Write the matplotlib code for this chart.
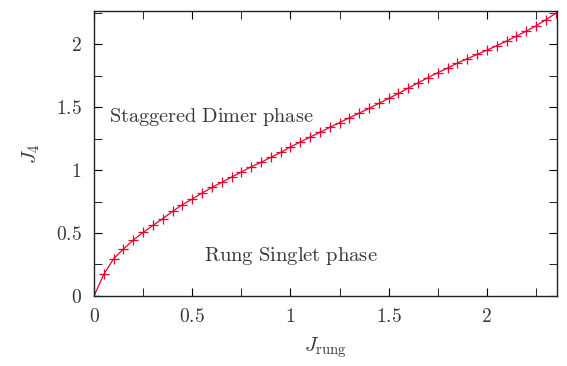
import matplotlib
matplotlib.use("Agg")
import matplotlib.pyplot as plt
from matplotlib.ticker import MultipleLocator

plt.rcParams['mathtext.fontset'] = 'cm'
plt.rcParams['font.family'] = 'serif'
plt.rcParams['font.serif'] = ['DejaVu Serif']

# phase boundary
j_rung = [0.00, 0.05, 0.10, 0.15, 0.20, 0.25, 0.30, 0.35, 0.40, 0.45,
          0.50, 0.55, 0.60, 0.65, 0.70, 0.75, 0.80, 0.85, 0.90, 0.95,
          1.00, 1.05, 1.10, 1.15, 1.20, 1.25, 1.30, 1.35, 1.40, 1.45,
          1.50, 1.55, 1.60, 1.65, 1.70, 1.75, 1.80, 1.85, 1.90, 1.95,
          2.00, 2.05, 2.10, 2.15, 2.20, 2.25, 2.30, 2.35]
j4 = [0.000, 0.172, 0.296, 0.373, 0.444, 0.505, 0.561, 0.614, 0.672, 0.725,
      0.770, 0.817, 0.862, 0.902, 0.944, 0.984, 1.026, 1.061, 1.101, 1.140,
      1.183, 1.222, 1.262, 1.299, 1.339, 1.376, 1.415, 1.452, 1.489, 1.529,
      1.569, 1.608, 1.651, 1.693, 1.733, 1.773, 1.810, 1.849, 1.884, 1.918,
      1.952, 1.987, 2.024, 2.063, 2.103, 2.145, 2.193, 2.244]

xticks = [0, 0.5, 1, 1.5, 2]
yticks = [0, 0.5, 1, 1.5, 2]
grey = '#383838'

fig = plt.figure(figsize=(5.67, 3.66), dpi=100)
ax = fig.add_axes([0.1658, 0.1913, 0.8162, 0.7787])

ax.plot(j_rung, j4, color='#e8002e', lw=0.9, marker='+', ms=6.5, mew=0.9)

ax.set_xlim(0, 2.356)
ax.set_ylim(0, 2.263)
ax.xaxis.set_minor_locator(MultipleLocator(0.25))
ax.yaxis.set_minor_locator(MultipleLocator(0.25))
ax.set_xticks(xticks)
ax.set_yticks(yticks)
ax.set_xticklabels([r'$\mathrm{%g}$' % t for t in xticks])
ax.set_yticklabels([r'$\mathrm{%g}$' % t for t in yticks])
ax.tick_params(which='both', direction='in', top=True, right=True,
               labelsize=14, labelcolor=grey, pad=9)
ax.tick_params(which='major', length=6)
ax.tick_params(which='minor', length=6)
for s in ax.spines.values():
    s.set_linewidth(1.0)
    s.set_color('#202020')

ax.set_xlabel(r'$J_\mathrm{rung}$', fontsize=15, color=grey, labelpad=6)
ax.set_ylabel(r'$J_4$', fontsize=15, color=grey, labelpad=10)

ax.text(0.076, 1.42, r'$\mathrm{Staggered\ Dimer\ phase}$', fontsize=14.6,
        color=grey, va='center')
ax.text(0.56, 0.317, r'$\mathrm{Rung\ Singlet\ phase}$', fontsize=14.8,
        color=grey, va='center')

fig.savefig('out.png', dpi=100)
